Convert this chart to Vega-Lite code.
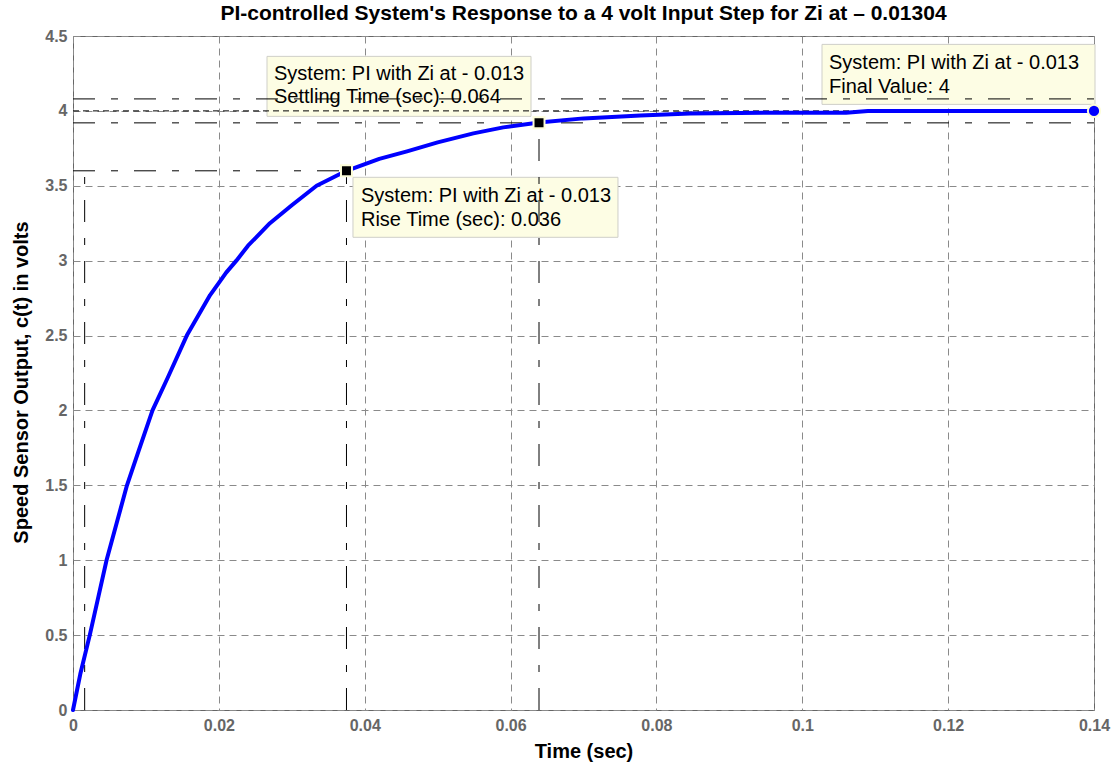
{
  "$schema": "https://vega.github.io/schema/vega-lite/v6.json",
  "width": 1021,
  "height": 674,
  "autosize": {"type": "none"},
  "padding": {"left": 73, "top": 36, "right": 23, "bottom": 57},
  "background": "white",
  "title": {
    "text": "PI-controlled System's Response to a 4 volt Input Step for Zi at – 0.01304",
    "fontSize": 21,
    "fontWeight": "bold",
    "color": "#000000",
    "anchor": "middle",
    "frame": "group",
    "baseline": "alphabetic",
    "offset": 4,
    "dy": 17
  },
  "datasets": {
    "response": [
      {"t": 0, "v": 0},
      {"t": 0.001, "v": 0.24},
      {"t": 0.0023, "v": 0.5},
      {"t": 0.0035, "v": 0.76},
      {"t": 0.0046, "v": 1.0},
      {"t": 0.006, "v": 1.25},
      {"t": 0.0074, "v": 1.5},
      {"t": 0.009, "v": 1.73},
      {"t": 0.0109, "v": 2.0},
      {"t": 0.013, "v": 2.22},
      {"t": 0.0156, "v": 2.5},
      {"t": 0.0188, "v": 2.77},
      {"t": 0.021, "v": 2.92},
      {"t": 0.0224, "v": 3.0},
      {"t": 0.024, "v": 3.1},
      {"t": 0.027, "v": 3.25},
      {"t": 0.03, "v": 3.37},
      {"t": 0.0334, "v": 3.5},
      {"t": 0.0375, "v": 3.6},
      {"t": 0.042, "v": 3.68},
      {"t": 0.0458, "v": 3.73},
      {"t": 0.05, "v": 3.79},
      {"t": 0.0549, "v": 3.85},
      {"t": 0.059, "v": 3.89},
      {"t": 0.0639, "v": 3.922},
      {"t": 0.07, "v": 3.95},
      {"t": 0.0778, "v": 3.97},
      {"t": 0.0846, "v": 3.983},
      {"t": 0.095, "v": 3.987},
      {"t": 0.106, "v": 3.988},
      {"t": 0.109, "v": 4.0},
      {"t": 0.12, "v": 4.0},
      {"t": 0.14, "v": 4.0}
    ],
    "limits": [
      {"t": 0, "t2": 0.14, "v": 4.08, "v2": 4.08},
      {"t": 0, "t2": 0.14, "v": 3.92, "v2": 3.92},
      {"t": 0, "t2": 0.0375, "v": 3.6, "v2": 3.6},
      {"t": 0.0016, "t2": 0.0016, "v": 0, "v2": 3.6},
      {"t": 0.0375, "t2": 0.0375, "v": 0, "v2": 3.6},
      {"t": 0.0639, "t2": 0.0639, "v": 0, "v2": 3.92}
    ],
    "finalLine": [
      {"t": 0, "t2": 0.14, "v": 4, "v2": 4}
    ],
    "points": [
      {"name": "rise", "t": 0.0375, "v": 3.6, "label": "System: PI with Zi at - 0.013\nRise Time (sec): 0.036"},
      {"name": "settle", "t": 0.0639, "v": 3.92, "label": "System: PI with Zi at - 0.013\nSettling Time (sec): 0.064"},
      {"name": "final", "t": 0.14, "v": 4, "label": "System: PI with Zi at - 0.013\nFinal Value: 4"}
    ]
  },
  "encoding": {
    "x": {
      "field": "t",
      "type": "quantitative",
      "scale": {"domain": [0, 0.14], "nice": false, "zero": false},
      "axis": {
        "title": "Time (sec)",
        "values": [0, 0.02, 0.04, 0.06, 0.08, 0.1, 0.12, 0.14],
        "format": "~g",
        "labelPadding": 7,
        "titlePadding": 8
      }
    },
    "y": {
      "field": "v",
      "type": "quantitative",
      "scale": {"domain": [0, 4.5], "nice": false, "zero": false},
      "axis": {
        "title": "Speed Sensor Output, c(t) in volts",
        "values": [0, 0.5, 1, 1.5, 2, 2.5, 3, 3.5, 4, 4.5],
        "format": "~g",
        "labelPadding": 6,
        "titlePadding": 13,
        "titleY": 346
      }
    }
  },
  "layer": [
    {
      "data": {"name": "points"},
      "transform": [{"filter": "datum.name === 'settle'"}],
      "mark": {"type": "rect", "fill": "#fdfde4", "stroke": "#cfcfc8", "strokeWidth": 1, "xOffset": -272, "x2Offset": -8, "yOffset": -66.5, "y2Offset": -6.5},
      "encoding": {"x2": {"field": "t"}, "y2": {"field": "v"}}
    },
    {
      "data": {"name": "points"},
      "transform": [{"filter": "datum.name === 'rise'"}],
      "mark": {"type": "rect", "fill": "#fdfde4", "stroke": "#cfcfc8", "strokeWidth": 1, "xOffset": 6.5, "x2Offset": 271.5, "yOffset": 6.5, "y2Offset": 66.5},
      "encoding": {"x2": {"field": "t"}, "y2": {"field": "v"}}
    },
    {
      "data": {"name": "points"},
      "transform": [{"filter": "datum.name === 'final'"}],
      "mark": {"type": "rect", "fill": "#fdfde4", "stroke": "#cfcfc8", "strokeWidth": 1, "xOffset": -272, "x2Offset": 1, "yOffset": -66.5, "y2Offset": -6.5},
      "encoding": {"x2": {"field": "t"}, "y2": {"field": "v"}}
    },
    {
      "data": {"name": "limits"},
      "mark": {"type": "rule", "color": "#000000", "strokeWidth": 1, "strokeDash": [22, 16, 7, 16]},
      "encoding": {"x2": {"field": "t2"}, "y2": {"field": "v2"}}
    },
    {
      "data": {"name": "finalLine"},
      "mark": {"type": "rule", "color": "#000000", "strokeWidth": 1, "strokeDash": [6, 4]},
      "encoding": {"x2": {"field": "t2"}, "y2": {"field": "v2"}}
    },
    {
      "data": {"name": "response"},
      "mark": {"type": "line", "color": "#0000ff", "strokeWidth": 4, "strokeJoin": "round", "strokeCap": "round"},
      "encoding": {}
    },
    {
      "data": {"name": "points"},
      "transform": [{"filter": "datum.name !== 'final'"}],
      "mark": {"type": "point", "shape": "square", "filled": true, "size": 121, "fill": "#000000", "stroke": "#fdfdd8", "strokeWidth": 2, "opacity": 1},
      "encoding": {}
    },
    {
      "data": {"name": "points"},
      "transform": [{"filter": "datum.name === 'final'"}],
      "mark": {"type": "point", "shape": "circle", "filled": true, "size": 150, "fill": "#0000ff", "stroke": "#fdfdd8", "strokeWidth": 2, "opacity": 1},
      "encoding": {}
    },
    {
      "data": {"name": "points"},
      "transform": [{"filter": "datum.name === 'settle'"}],
      "mark": {"type": "text", "align": "left", "baseline": "alphabetic", "lineBreak": "\n", "lineHeight": 23.5, "fontSize": 20, "color": "#000000", "dx": -265, "dy": -43},
      "encoding": {"text": {"field": "label"}}
    },
    {
      "data": {"name": "points"},
      "transform": [{"filter": "datum.name === 'rise'"}],
      "mark": {"type": "text", "align": "left", "baseline": "alphabetic", "lineBreak": "\n", "lineHeight": 24, "fontSize": 20, "color": "#000000", "dx": 14.5, "dy": 31},
      "encoding": {"text": {"field": "label"}}
    },
    {
      "data": {"name": "points"},
      "transform": [{"filter": "datum.name === 'final'"}],
      "mark": {"type": "text", "align": "left", "baseline": "alphabetic", "lineBreak": "\n", "lineHeight": 24, "fontSize": 20, "color": "#000000", "dx": -265, "dy": -41.5},
      "encoding": {"text": {"field": "label"}}
    }
  ],
  "config": {
    "font": "Liberation Sans",
    "view": {"stroke": "#666666", "strokeWidth": 1},
    "axis": {
      "domain": false,
      "ticks": false,
      "tickSize": 0,
      "grid": true,
      "gridColor": "#8a8a8a",
      "gridDash": [7, 5],
      "gridWidth": 1,
      "labelFont": "Liberation Sans",
      "labelFontSize": 16,
      "labelFontWeight": "bold",
      "labelColor": "#666666",
      "labelFlush": false,
      "labelOverlap": false,
      "titleFont": "Liberation Sans",
      "titleFontSize": 20,
      "titleFontWeight": "bold",
      "titleColor": "#000000"
    }
  }
}
